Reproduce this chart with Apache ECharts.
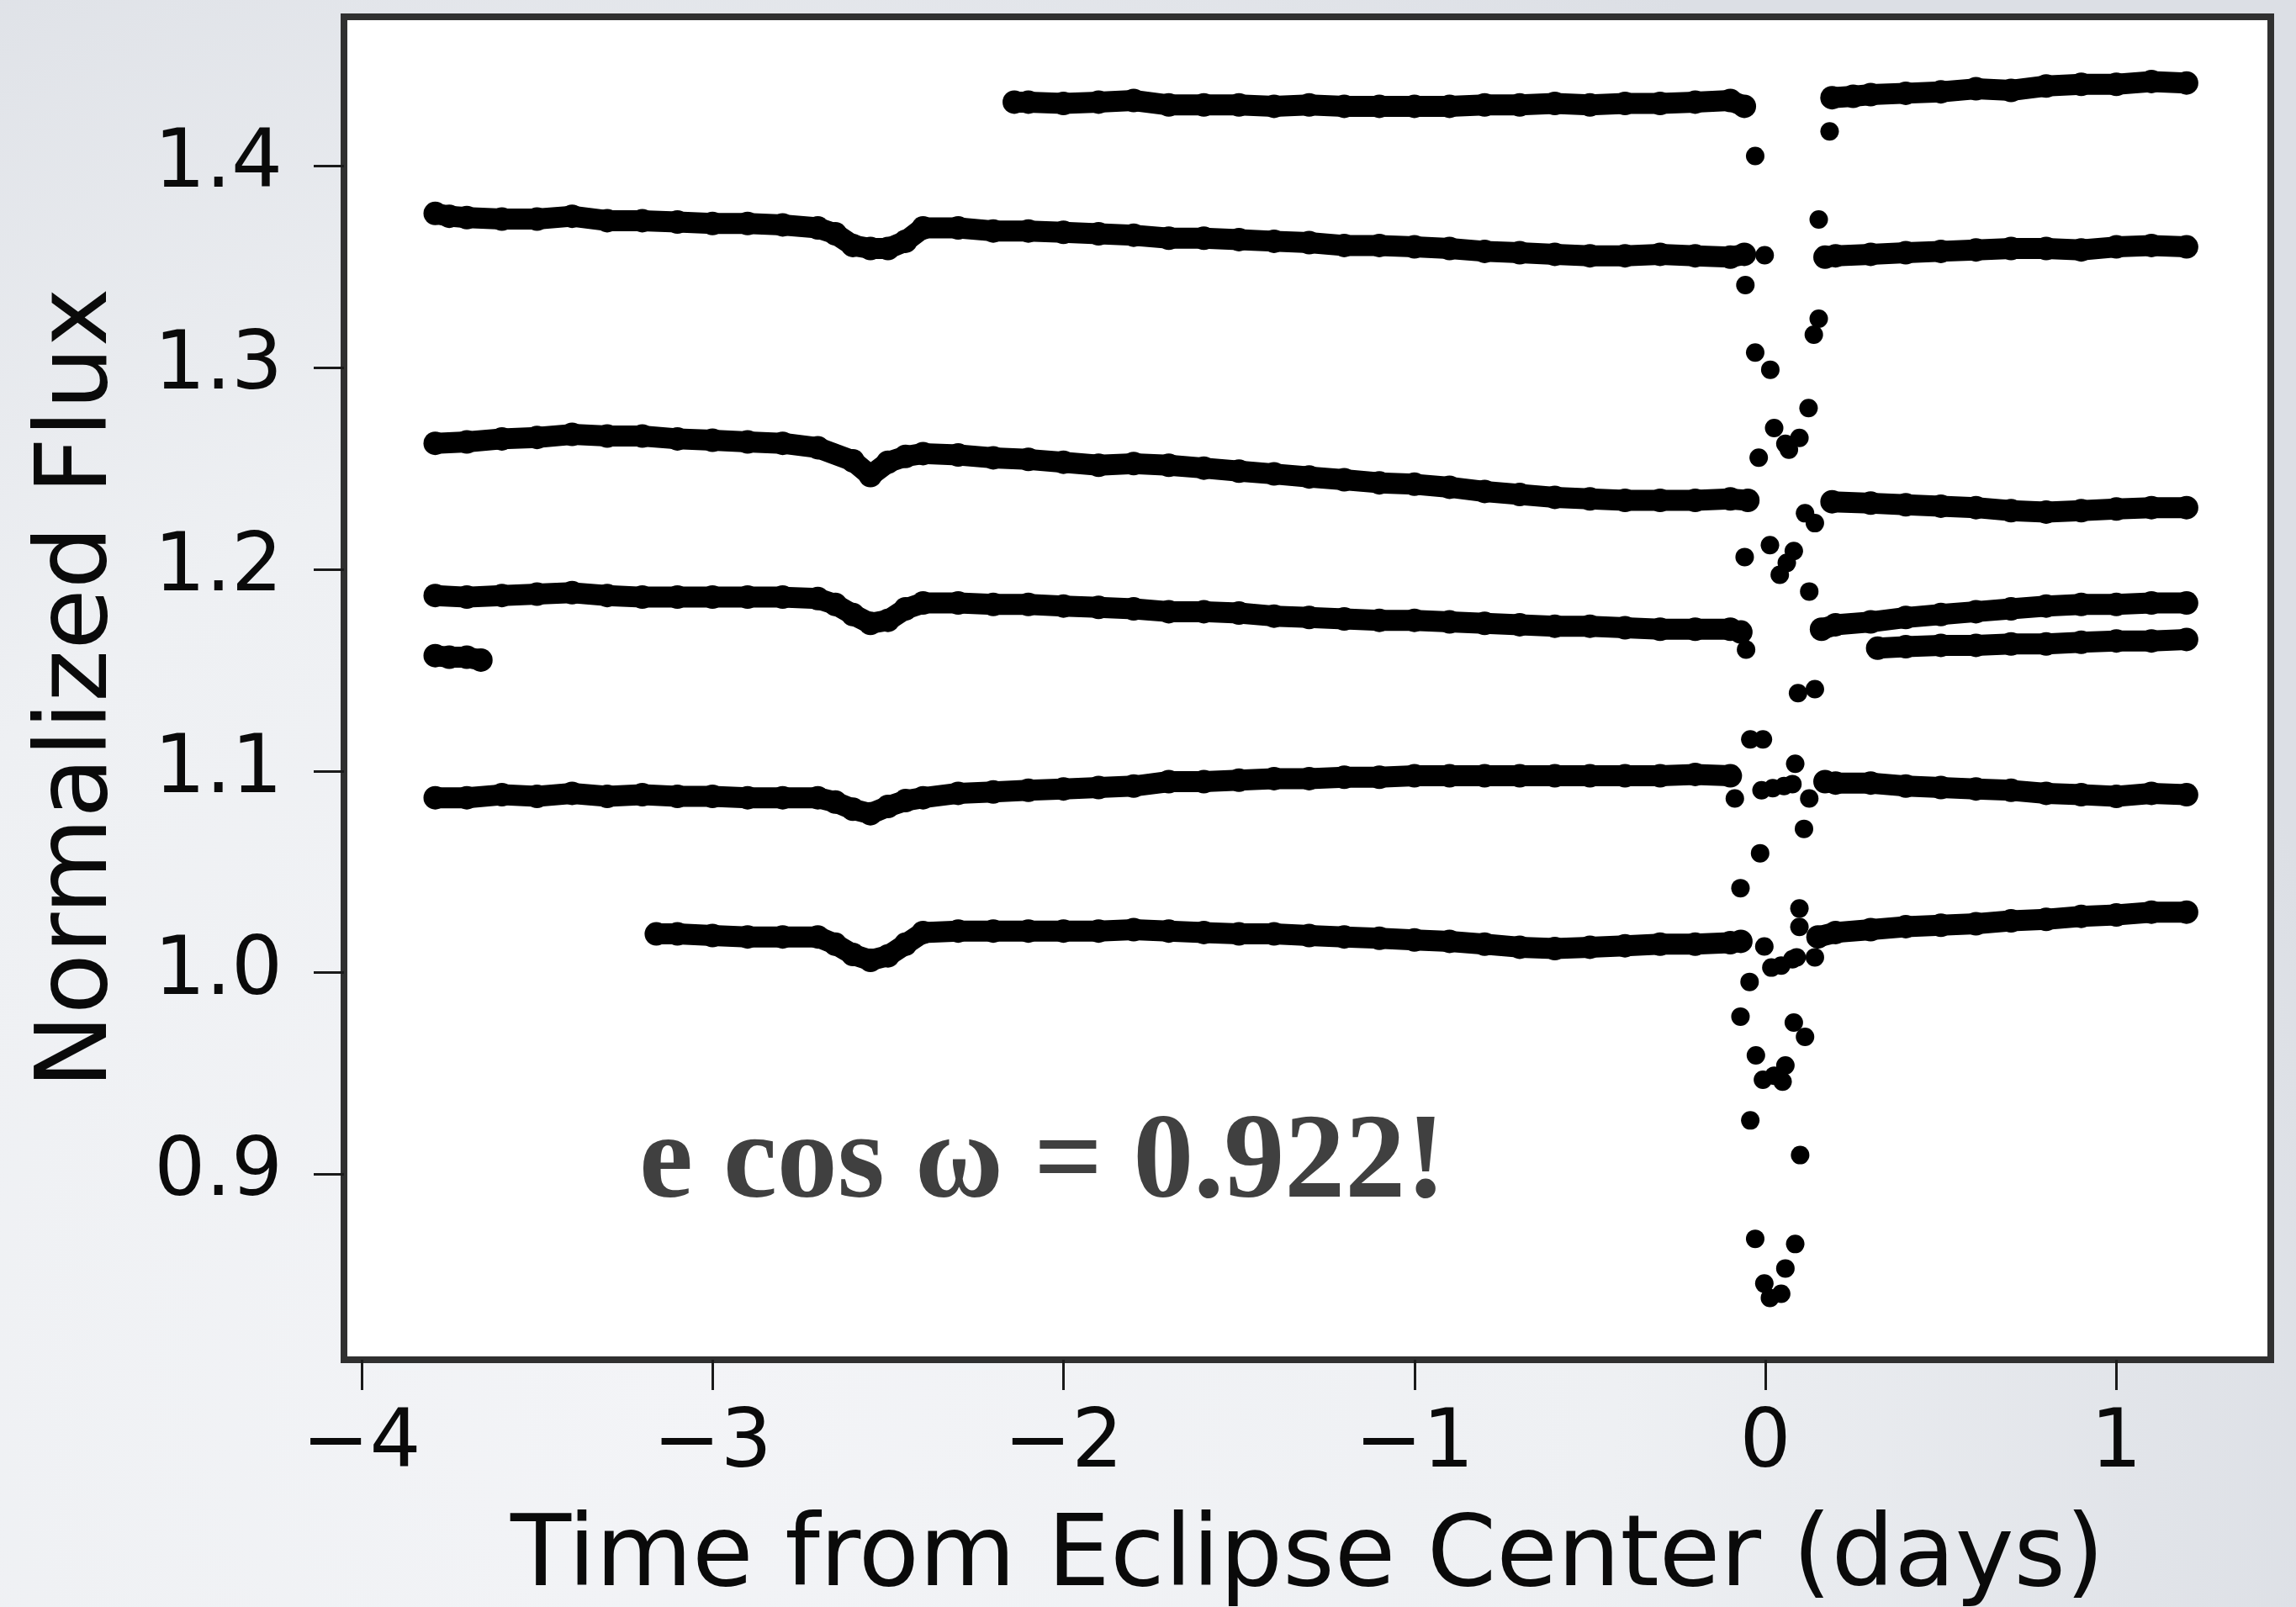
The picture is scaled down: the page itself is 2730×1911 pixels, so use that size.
<!DOCTYPE html>
<html>
<head>
<meta charset="utf-8">
<script src="https://cdn.jsdelivr.net/npm/echarts@6/dist/echarts.min.js"></script>
<style>
  html, body { margin: 0; padding: 0; background: #eceef2; }
  #chart { width: 2730px; height: 1911px; }
</style>
</head>
<body>
<div id="chart"></div>
<script>
// Stacked, vertically offset light curves folded on the primary eclipse.
// Each segment is [time from eclipse centre (days), normalized flux].

const xTickValues = [-4, -3, -2, -1, 0, 1];
const yTickValues = [0.9, 1.0, 1.1, 1.2, 1.3, 1.4];

// curve 1 (top)
const curve1Before = [[-2.14,1.4317],[-2.1,1.4317],[-2.0,1.4310],[-1.9,1.4317],[-1.8,1.4325],[-1.7,1.4303],[-1.6,1.4303],[-1.5,1.4303],[-1.4,1.4296],[-1.3,1.4303],[-1.2,1.4296],[-1.1,1.4296],[-1.0,1.4296],[-0.9,1.4296],[-0.8,1.4303],[-0.7,1.4303],[-0.6,1.4310],[-0.5,1.4303],[-0.4,1.4310],[-0.3,1.4310],[-0.2,1.4317],[-0.1,1.4325],[-0.06,1.4296]];
const curve1After = [[0.19,1.4339],[0.25,1.4346],[0.3,1.4354],[0.4,1.4361],[0.5,1.4368],[0.6,1.4383],[0.7,1.4375],[0.8,1.4397],[0.9,1.4405],[1.0,1.4405],[1.1,1.4419],[1.2,1.4412]];

// curve 2
const curve2Before = [[-3.79,1.3765],[-3.75,1.3751],[-3.7,1.3744],[-3.6,1.3737],[-3.5,1.3737],[-3.4,1.3751],[-3.3,1.3729],[-3.2,1.3729],[-3.1,1.3722],[-3.0,1.3715],[-2.9,1.3715],[-2.8,1.3708],[-2.7,1.3693],[-2.65,1.3664],[-2.6,1.3606],[-2.55,1.3591],[-2.5,1.3591],[-2.45,1.3627],[-2.4,1.3693],[-2.3,1.3693],[-2.2,1.3678],[-2.1,1.3678],[-2.0,1.3671],[-1.9,1.3664],[-1.8,1.3657],[-1.7,1.3642],[-1.6,1.3642],[-1.5,1.3635],[-1.4,1.3627],[-1.3,1.3620],[-1.2,1.3606],[-1.1,1.3606],[-1.0,1.3599],[-0.9,1.3591],[-0.8,1.3577],[-0.7,1.3570],[-0.6,1.3562],[-0.5,1.3555],[-0.4,1.3555],[-0.3,1.3562],[-0.2,1.3555],[-0.1,1.3548],[-0.06,1.3562]];
const curve2After = [[0.17,1.3548],[0.2,1.3555],[0.3,1.3562],[0.4,1.3570],[0.5,1.3577],[0.6,1.3584],[0.7,1.3591],[0.8,1.3591],[0.9,1.3584],[1.0,1.3599],[1.1,1.3606],[1.2,1.3599]];

// curve 3
const curve3Before = [[-3.79,1.2625],[-3.7,1.2632],[-3.6,1.2647],[-3.5,1.2654],[-3.4,1.2669],[-3.3,1.2661],[-3.2,1.2661],[-3.1,1.2647],[-3.0,1.2640],[-2.9,1.2632],[-2.8,1.2625],[-2.7,1.2603],[-2.6,1.2538],[-2.55,1.2465],[-2.5,1.2531],[-2.45,1.2560],[-2.4,1.2574],[-2.3,1.2567],[-2.2,1.2553],[-2.1,1.2545],[-2.0,1.2531],[-1.9,1.2516],[-1.8,1.2524],[-1.7,1.2516],[-1.6,1.2502],[-1.5,1.2487],[-1.4,1.2473],[-1.3,1.2458],[-1.2,1.2444],[-1.1,1.2429],[-1.0,1.2422],[-0.9,1.2407],[-0.8,1.2386],[-0.7,1.2371],[-0.6,1.2357],[-0.5,1.2349],[-0.4,1.2342],[-0.3,1.2342],[-0.2,1.2342],[-0.1,1.2349],[-0.05,1.2342]];
const curve3After = [[0.19,1.2335],[0.3,1.2328],[0.4,1.2320],[0.5,1.2313],[0.6,1.2306],[0.7,1.2291],[0.8,1.2284],[0.9,1.2291],[1.0,1.2299],[1.1,1.2306],[1.2,1.2306]];

// curve 4, with its two short extra pieces
const curve4Before = [[-3.79,1.1870],[-3.7,1.1862],[-3.6,1.1870],[-3.5,1.1877],[-3.4,1.1884],[-3.3,1.1870],[-3.2,1.1862],[-3.1,1.1862],[-3.0,1.1862],[-2.9,1.1862],[-2.8,1.1862],[-2.7,1.1855],[-2.65,1.1826],[-2.6,1.1776],[-2.55,1.1732],[-2.5,1.1747],[-2.45,1.1804],[-2.4,1.1833],[-2.3,1.1833],[-2.2,1.1826],[-2.1,1.1826],[-2.0,1.1818],[-1.9,1.1811],[-1.8,1.1804],[-1.7,1.1790],[-1.6,1.1790],[-1.5,1.1783],[-1.4,1.1768],[-1.3,1.1761],[-1.2,1.1754],[-1.1,1.1747],[-1.0,1.1747],[-0.9,1.1739],[-0.8,1.1732],[-0.7,1.1725],[-0.6,1.1718],[-0.5,1.1718],[-0.4,1.1710],[-0.3,1.1703],[-0.2,1.1703],[-0.1,1.1703],[-0.07,1.1689]];
const curve4After = [[0.16,1.1703],[0.2,1.1725],[0.3,1.1739],[0.4,1.1761],[0.5,1.1776],[0.6,1.1790],[0.7,1.1804],[0.8,1.1818],[0.9,1.1826],[1.0,1.1826],[1.1,1.1833],[1.2,1.1833]];
const curve4Late = [[0.32,1.1609],[0.4,1.1616],[0.5,1.1623],[0.6,1.1623],[0.7,1.1630],[0.8,1.1630],[0.9,1.1638],[1.0,1.1645],[1.1,1.1645],[1.2,1.1652]];
const curve4Early = [[-3.79,1.1572],[-3.75,1.1564],[-3.70,1.1564],[-3.66,1.1550]];

// curve 5
const curve5Before = [[-3.79,1.0867],[-3.7,1.0867],[-3.6,1.0882],[-3.5,1.0874],[-3.4,1.0889],[-3.3,1.0874],[-3.2,1.0882],[-3.1,1.0874],[-3.0,1.0874],[-2.9,1.0867],[-2.8,1.0867],[-2.7,1.0867],[-2.65,1.0846],[-2.6,1.0810],[-2.55,1.0788],[-2.5,1.0824],[-2.45,1.0853],[-2.4,1.0867],[-2.3,1.0889],[-2.2,1.0896],[-2.1,1.0904],[-2.0,1.0911],[-1.9,1.0918],[-1.8,1.0925],[-1.7,1.0947],[-1.6,1.0947],[-1.5,1.0954],[-1.4,1.0962],[-1.3,1.0962],[-1.2,1.0969],[-1.1,1.0969],[-1.0,1.0976],[-0.9,1.0976],[-0.8,1.0976],[-0.7,1.0976],[-0.6,1.0976],[-0.5,1.0976],[-0.4,1.0976],[-0.3,1.0976],[-0.2,1.0983],[-0.1,1.0976]];
const curve5After = [[0.17,1.0947],[0.2,1.0940],[0.3,1.0940],[0.4,1.0925],[0.5,1.0918],[0.6,1.0911],[0.7,1.0904],[0.8,1.0889],[0.9,1.0882],[1.0,1.0874],[1.1,1.0889],[1.2,1.0882]];

// curve 6 (bottom)
const curve6Before = [[-3.16,1.0192],[-3.1,1.0192],[-3.0,1.0184],[-2.9,1.0177],[-2.8,1.0177],[-2.7,1.0177],[-2.65,1.0141],[-2.6,1.0090],[-2.55,1.0061],[-2.5,1.0083],[-2.45,1.0141],[-2.4,1.0199],[-2.3,1.0206],[-2.2,1.0206],[-2.1,1.0206],[-2.0,1.0206],[-1.9,1.0206],[-1.8,1.0213],[-1.7,1.0206],[-1.6,1.0199],[-1.5,1.0192],[-1.4,1.0192],[-1.3,1.0184],[-1.2,1.0177],[-1.1,1.0170],[-1.0,1.0162],[-0.9,1.0155],[-0.8,1.0141],[-0.7,1.0126],[-0.6,1.0119],[-0.5,1.0126],[-0.4,1.0133],[-0.3,1.0141],[-0.2,1.0141],[-0.1,1.0148],[-0.07,1.0155]];
const curve6After = [[0.15,1.0177],[0.2,1.0199],[0.3,1.0213],[0.4,1.0228],[0.5,1.0235],[0.6,1.0242],[0.7,1.0257],[0.8,1.0264],[0.9,1.0279],[1.0,1.0286],[1.1,1.0300],[1.2,1.0300]];

// in-eclipse points of all curves
const eclipsePoints = [[-0.029,1.4050],[0.183,1.4172],[0.152,1.3735],[-0.002,1.3558],[-0.057,1.3410],[0.152,1.3243],[0.138,1.3164],[-0.029,1.3075],[0.014,1.2990],[0.123,1.2800],[0.025,1.2701],[0.097,1.2652],[0.067,1.2593],[0.057,1.2622],[-0.019,1.2554],[0.113,1.2278],[0.141,1.2229],[-0.059,1.2061],[0.013,1.2120],[0.081,1.2091],[0.061,1.2032],[0.041,1.1973],[0.125,1.1890],[-0.055,1.1602],[0.093,1.1386],[0.141,1.1406],[-0.043,1.1157],[-0.007,1.1157],[0.085,1.1036],[-0.087,1.0864],[-0.011,1.0904],[0.021,1.0915],[0.053,1.0925],[0.077,1.0935],[0.125,1.0864],[0.110,1.0713],[-0.015,1.0592],[-0.071,1.0419],[0.097,1.0318],[0.097,1.0227],[-0.003,1.0130],[0.017,1.0025],[0.045,1.0035],[0.077,1.0066],[0.089,1.0076],[0.141,1.0076],[-0.045,0.9954],[-0.071,0.9782],[0.081,0.9752],[0.113,0.9681],[-0.027,0.9590],[-0.007,0.9469],[0.025,0.9489],[0.049,0.9459],[0.057,0.9540],[-0.043,0.9267],[0.099,0.9095],[-0.029,0.8680],[0.085,0.8654],[0.057,0.8533],[-0.003,0.8458],[0.013,0.8387],[0.045,0.8407]];

const segments = [
  curve1Before, curve1After, curve2Before, curve2After, curve3Before, curve3After,
  curve4Before, curve4After, curve4Late, curve4Early,
  curve5Before, curve5After, curve6Before, curve6After
];

const FONT = 'DejaVu Sans';
const INK = '#000000';

function bandSeries(data) {
  return {
    type: 'line',
    data: data,
    symbol: 'circle',
    symbolSize: 28,
    showSymbol: true,
    showAllSymbol: true,
    silent: true,
    itemStyle: { color: INK, borderWidth: 0, opacity: 1 },
    lineStyle: { color: INK, width: 25, cap: 'round', join: 'round', opacity: 1 },
    emphasis: { disabled: true },
    z: 3
  };
}

const series = segments.map(bandSeries);
series.push({
  type: 'scatter',
  data: eclipsePoints,
  symbol: 'circle',
  symbolSize: 22,
  silent: true,
  itemStyle: { color: INK, borderWidth: 0, opacity: 1 },
  emphasis: { disabled: true },
  z: 4
});

const chart = echarts.init(document.getElementById('chart'), null, { renderer: 'canvas' });

chart.setOption({
  animation: false,
  backgroundColor: {
    type: 'radial', x: 0.3, y: 0.85, r: 1.05,
    colorStops: [
      { offset: 0, color: '#f3f4f7' },
      { offset: 0.55, color: '#eef0f3' },
      { offset: 1, color: '#dcdfe5' }
    ]
  },
  grid: {
    left: 409, top: 20, right: 30, bottom: 294,
    show: true, backgroundColor: '#ffffff',
    borderColor: '#303030', borderWidth: 8,
    containLabel: false, outerBoundsMode: 'none'
  },
  xAxis: {
    type: 'value', min: -4.05, max: 1.44,
    axisLine: { show: false, onZero: false },
    splitLine: { show: false },
    axisTick: {
      show: true, inside: false, length: 36,
      customValues: xTickValues,
      lineStyle: { color: '#1a1a1a', width: 3 }
    },
    axisLabel: {
      customValues: xTickValues,
      margin: 54, fontSize: 96, fontFamily: FONT, color: '#0a0a0a',
      formatter: v => (v < 0 ? '\u2212' + Math.abs(v) : String(v))
    },
    name: 'Time from Eclipse Center (days)',
    nameLocation: 'middle', nameGap: 178, nameMoveOverlap: false,
    nameTextStyle: { fontSize: 118, fontFamily: FONT, color: '#0a0a0a' }
  },
  yAxis: {
    type: 'value', min: 0.808, max: 1.474,
    axisLine: { show: false, onZero: false },
    splitLine: { show: false },
    axisTick: {
      show: true, inside: false, length: 36,
      customValues: yTickValues,
      lineStyle: { color: '#1a1a1a', width: 3 }
    },
    axisLabel: {
      customValues: yTickValues,
      margin: 73, fontSize: 96, fontFamily: FONT, color: '#0a0a0a',
      formatter: v => v.toFixed(1)
    },
    name: 'Normalized Flux',
    nameLocation: 'middle', nameGap: 255, nameMoveOverlap: false,
    nameTextStyle: { fontSize: 118, fontFamily: FONT, color: '#0a0a0a' }
  },
  graphic: [{
    type: 'text',
    x: 760, y: 1386,
    silent: true,
    z: 10,
    style: {
      text: 'e cos \u03c9 = 0.922!',
      font: 'bold 144px "Liberation Serif"',
      fill: '#404040',
      align: 'left',
      verticalAlign: 'middle'
    }
  }],
  series: series
});
</script>
</body>
</html>
